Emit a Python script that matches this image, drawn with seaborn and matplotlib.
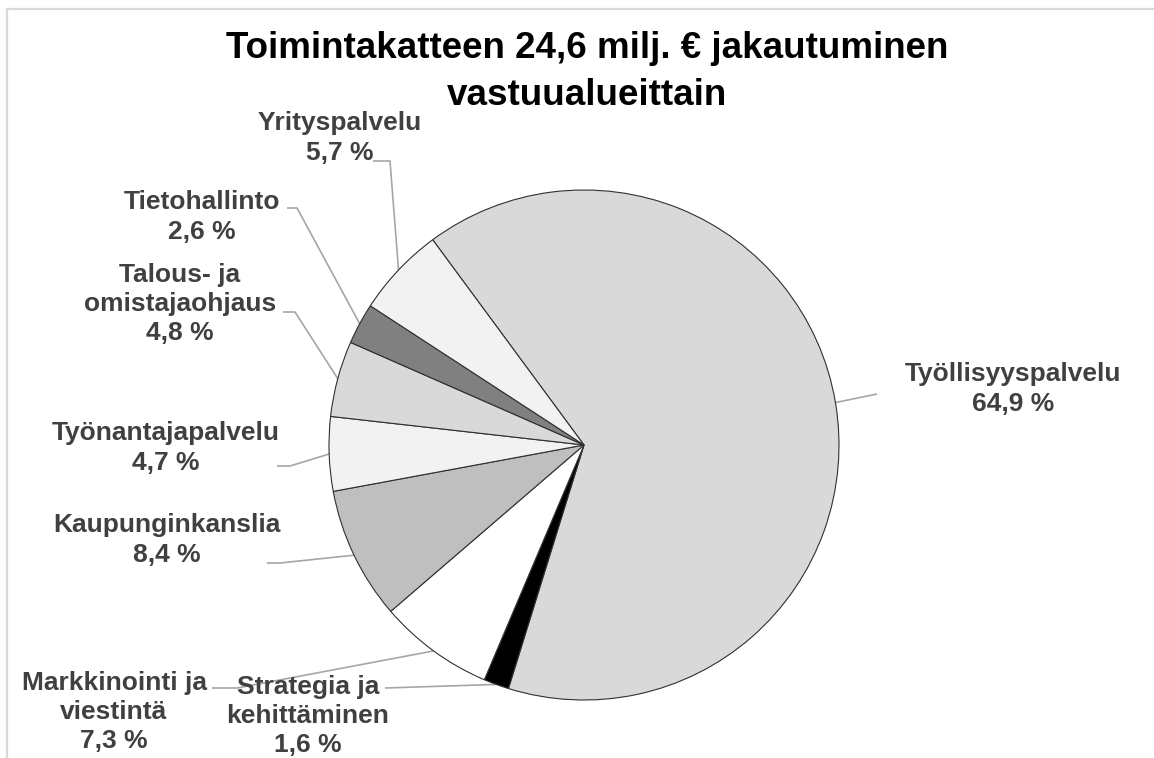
import numpy as np
import matplotlib
matplotlib.use("Agg")
import matplotlib.pyplot as plt
import seaborn as sns

# ---- data ----
categories = ["Työllisyyspalvelu", "Strategia ja\nkehittäminen", "Markkinointi ja\nviestintä",
              "Kaupunginkanslia", "Työnantajapalvelu", "Talous- ja\nomistajaohjaus",
              "Tietohallinto", "Yrityspalvelu"]
shares = [64.9, 1.6, 7.3, 8.4, 4.7, 4.8, 2.6, 5.7]
slice_colors = ["#d9d9d9", "#000000", "#ffffff", "#bfbfbf", "#f2f2f2", "#d9d9d9", "#808080", "#f2f2f2"]
title_lines = ["Toimintakatteen 24,6 milj. € jakautuminen", "vastuualueittain"]

sns.set_theme(style="white")
plt.rcParams['font.family'] = ['Liberation Sans', 'DejaVu Sans']

W, H = 1154, 758
fig = plt.figure(figsize=(W / 100, H / 100), dpi=100)
ax = fig.add_axes([0, 0, 1, 1])

def P(x, y):
    return (x, H - y)

center = P(584, 445)
radius = 255
wedges, _ = ax.pie(shares, colors=slice_colors, startangle=126.4, counterclock=False,
                   center=center, radius=radius, frame=True,
                   wedgeprops=dict(edgecolor="#303030", linewidth=0.8))
ax.set_xlim(0, W)
ax.set_ylim(0, H)
ax.axis("off")

# label layout: (block centre, elbow points) in pixel coordinates
label_pos = [(1013, 389), (308, 716), (114, 712), (167, 540), (166, 448), (180, 304), (202, 217), (340, 138)]
elbows = [
    [(877, 394)],
    [(385, 688)],
    [(212, 688), (237, 688)],
    [(267, 563), (280, 563)],
    [(277, 466), (290, 466)],
    [(283, 312), (295, 312)],
    [(287, 208), (297, 208)],
    [(373, 161), (390, 161)],
]

for w, cat, val, pos, elb in zip(wedges, categories, shares, label_pos, elbows):
    mid = np.deg2rad((w.theta1 + w.theta2) / 2)
    ax_pt = (w.center[0] + w.r * np.cos(mid), w.center[1] + w.r * np.sin(mid))
    pts = [P(*e) for e in elb] + [ax_pt]
    xs, ys = zip(*pts)
    ax.plot(xs, ys, color="#a6a6a6", lw=1.2, zorder=0.5, solid_capstyle="butt")
    lab = f"{cat}\n{val:.1f} %".replace(".", ",")
    ax.text(*P(*pos), lab, ha="center", va="center", multialignment="center",
            fontsize=19, fontweight="bold", color="#404040", linespacing=1.28, zorder=3)

for line, base in zip(title_lines, [58, 105]):
    ax.text(*P(587, base), line, ha="center", va="baseline", fontsize=26.5,
            fontweight="bold", color="#000000")

# chart frame
ax.plot([7, 7, W + 5], [0 - 5, H - 9, H - 9], color="#d9d9d9", lw=1.6, clip_on=False)

fig.savefig("out.png", dpi=100)
